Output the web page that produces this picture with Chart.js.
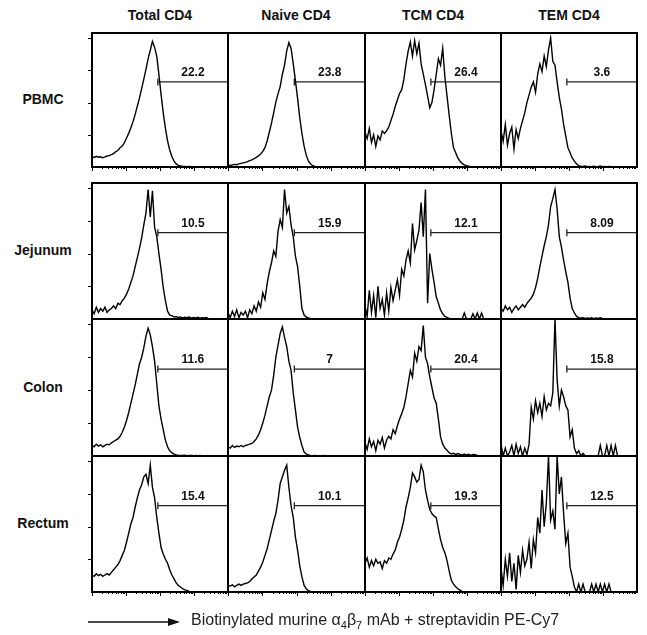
<!DOCTYPE html>
<html>
<head>
<meta charset="utf-8">
<script src="https://cdn.jsdelivr.net/npm/chart.js@4.4.1/dist/chart.umd.min.js"></script>
<style>
    body { margin: 0; width: 647px; height: 635px; position: relative; overflow: hidden; background: #fff;
           font-family: "Liberation Sans", Arial, sans-serif; }
    canvas { position: absolute; }
    .col-title { position: absolute; top: 7px; width: 136px; text-align: center; font-weight: bold; font-size: 14px; color: #111; }
    .row-title { position: absolute; left: 0; width: 86px; text-align: center; font-weight: bold; font-size: 14px; color: #111; }
    #x-title { position: absolute; left: 191px; top: 611px; font-size: 16px; color: #222; white-space: nowrap; }
    #x-title sub { font-size: 11px; }
    #arrow { position: absolute; left: 88px; top: 615px; }
</style>
</head>
<body>
<div id="grid"></div>
<svg id="arrow" width="96" height="14"><line x1="0" y1="7" x2="84" y2="7" stroke="#111" stroke-width="1.3"/><polygon points="80,3 92,7 80,11" fill="#111"/></svg>
<div id="x-title">Biotinylated murine α<sub>4</sub>β<sub>7</sub> mAb + streptavidin PE-Cy7</div>
<script>
// Histogram counts (64 channels per panel, % of mode)
const totalPbmc = [8.0, 7.4, 8.3, 7.6, 7.9, 7.1, 7.8, 8.5, 8.8, 9.6,
    10.4, 11.9, 12.8, 14.9, 16.2, 18.8, 22.5, 26.1, 30.4, 35.2,
    40.8, 47.3, 53.6, 60.9, 68.2, 75.8, 84.1, 90.6, 97.5, 92.8,
    86.0, 71.5, 56.2, 42.0, 30.1, 20.3, 13.2, 8.1, 4.6, 2.4,
    1.3, 0.8, 0.5, 0.4, 0.3, 0.4, 0.2, 0.3, 0.2, 0.1,
    0.2, 0.1, 0.1, 0, 0, 0, 0, 0, 0, 0, 0, 0, 0, 0];
const naivePbmc = [1.5, 1.2, 1.6, 2.0, 1.8, 2.4, 2.8, 3.2, 3.6, 4.1,
    4.9, 5.6, 6.4, 7.5, 8.6, 10.0, 12.1, 15.0, 20.2, 27.0,
    34.1, 42.0, 50.3, 56.8, 62.4, 72.0, 79.1, 90.2, 96.5, 92.0,
    80.3, 67.0, 53.2, 38.1, 26.0, 16.2, 9.0, 4.5, 2.3, 1.0,
    0.5, 0.3, 0.2, 0.1, 0, 0, 0, 0, 0, 0,
    0, 0, 0, 0, 0, 0, 0, 0, 0, 0, 0, 0, 0, 0];
const tcmPbmc = [27, 22, 30, 19, 25, 16, 24, 21, 28, 26,
    28, 31, 36, 41, 47, 52, 57, 60, 68, 80,
    90, 97, 86, 98, 88, 96, 80, 72, 64, 55,
    46, 50, 60, 72, 84, 79, 92, 70, 55, 40,
    26, 15, 11, 7, 4.5, 2.8, 1.6, 1.0, 0.6, 0.3,
    0.2, 0.1, 0, 0, 0, 0, 0, 0, 0, 0, 0, 0, 0, 0];
const temPbmc = [28, 20, 33, 17, 26, 31, 14, 29, 22, 30,
    36, 42, 50, 56, 62, 66, 58, 72, 80, 74,
    86, 78, 91, 100, 82, 79, 66, 54, 45, 33,
    24, 15, 11, 7, 4.5, 2.4, 1.0, 0.6, 0.4, 0.8,
    0.3, 0.5, 0.2, 0.6, 0.3, 0.2, 0.8, 0.3, 0.4, 0.2,
    0.5, 0.2, 0.1, 0.3, 0.1, 0, 0, 0, 0, 0, 0, 0, 0, 0];

const totalJejunum = [7, 4, 9, 5, 8, 6, 9, 5, 7, 8,
    10, 8, 12, 11, 14, 16, 19, 23, 28, 33,
    40, 47, 54, 62, 72, 81, 99, 78, 98, 70,
    63, 50, 38, 24, 14, 6, 3, 2.5, 1.5, 1.8,
    1.2, 1.6, 0.8, 1.4, 1.0, 1.5, 0.7, 1.2, 0.9, 1.3,
    0.6, 1.0, 0.8, 1.1, 0.3, 0, 0, 0, 0, 0, 0, 0, 0, 0];
const naiveJejunum = [5, 1, 6, 2, 7, 1, 5, 3, 6, 1,
    7, 4, 10, 6, 13, 9, 20, 15, 27, 36,
    43, 52, 48, 67, 76, 70, 99, 81, 86, 72,
    63, 48, 40, 25, 8, 3, 1.5, 0.8, 0.3, 0.3,
    0, 0, 0, 0, 0, 0, 0, 0, 0, 0,
    0, 0, 0, 0, 0, 0, 0, 0, 0, 0, 0, 0, 0, 0];
const tcmJejunum = [10, 2, 22, 5, 18, 1, 25, 8, 15, 3,
    20, 6, 24, 14, 22, 30, 18, 38, 33, 45,
    52, 43, 73, 53, 60, 68, 89, 63, 99, 12,
    50, 38, 28, 17, 12, 7, 4, 2, 1.2, 0.5,
    0.3, 0, 0.2, 0, 0.3, 0, 4.6, 0, 0.2, 0,
    4.0, 0, 4.6, 0, 4.5, 0, 0, 0, 0, 0, 0, 0, 0, 0];
const temJejunum = [8, 6, 10, 7, 9, 5, 8, 10, 7, 9,
    11, 9, 12, 14, 16, 19, 24, 31, 40, 48,
    56, 63, 72, 86, 92, 99, 84, 63, 55, 45,
    36, 28, 16, 8, 4.6, 2.0, 1.0, 0.6, 1.0, 0.4,
    0.8, 0.5, 1.0, 0.3, 0.7, 0.4, 0.9, 0.2, 0.1, 0,
    0, 0, 0, 0, 0, 0, 0, 0, 0, 0, 0, 0, 0, 0];

const totalColon = [8, 7, 9, 7.5, 8.5, 7, 8, 9, 8.5, 10,
    11, 12, 13, 15, 18, 22, 27, 33, 40, 47,
    54, 62, 70, 75, 82, 91, 97, 92, 83, 72,
    55, 38, 28, 20, 12, 7, 4, 2.5, 1.5, 0.8,
    0.6, 0.5, 0.4, 0.6, 0.3, 0.5, 0.4, 0.3, 0.5, 0.3,
    0.4, 0.2, 0.3, 0.2, 0, 0, 0, 0, 0, 0, 0, 0, 0, 0];
const naiveColon = [7, 6, 8, 6.5, 7.5, 7, 8, 7, 8, 8.5,
    9, 9.5, 11, 13, 16, 20, 25, 31, 38, 45,
    50, 61, 75, 84, 93, 98, 90, 83, 72, 65,
    48, 35, 22, 14, 8, 3, 1.5, 0.8, 0.5, 0.3,
    0.4, 0.2, 0.3, 0.2, 0.4, 0.2, 0.3, 0.1, 0, 0,
    0, 0, 0, 0, 0, 0, 0, 0, 0, 0, 0, 0, 0, 0];
const tcmColon = [10, 5, 13, 7, 11, 4, 12, 9, 14, 6,
    12, 15, 13, 20, 17, 23, 28, 32, 37, 45,
    55, 65, 60, 78, 72, 83, 80, 99, 75, 70,
    60, 52, 44, 40, 28, 14.5, 9, 6, 4.3, 2.5,
    1.5, 2.0, 1.0, 1.8, 1.2, 0.6, 1.5, 0.8, 1.4, 0.5,
    1.2, 1.0, 0.4, 0.2, 0, 0, 0, 0, 0, 0, 0, 0, 0, 0];
const temColon = [9, 0, 6, 0, 3, 8, 0, 9, 2, 7,
    0, 6, 1, 9, 37, 28, 42, 33, 40, 30,
    45, 35, 40, 38, 48, 104, 58, 38, 50, 45,
    38, 35, 14.5, 20, 6, 1.8, 4, 0, 2, 0,
    0, 0, 0, 0, 0, 0, 8, 0, 0, 8,
    0, 8, 0, 8, 0, 0, 0, 0, 0, 0, 0, 0, 0, 0];

const totalRectum = [13, 12, 14, 12.5, 13.5, 12, 13, 14, 13, 15,
    17, 19, 21, 24, 28, 32, 38, 45, 52, 57,
    65, 72, 78, 82, 88, 90, 83, 97, 80, 72,
    57, 45, 34, 29, 25, 22, 17, 13, 10, 7,
    5, 3.8, 2.5, 1.6, 1.3, 0.5, 0.3, 0.2, 0, 0,
    0, 0, 0, 0, 0, 0, 0, 0, 0, 0, 0, 0, 0, 0];
const naiveRectum = [5, 4.5, 5.5, 4, 5, 6, 5, 6, 6.5, 7,
    8, 10, 11.5, 13, 16, 19, 23, 28, 33, 40,
    47, 54, 60, 70, 83, 88, 93, 97, 80, 66,
    57, 42, 32, 20, 11.5, 5, 2.5, 1.0, 0.5, 0.3,
    0.2, 0.1, 0, 0, 0, 0, 0, 0, 0, 0,
    0, 0, 0, 0, 0, 0, 0, 0, 0, 0, 0, 0, 0, 0];
const tcmRectum = [22, 26, 19, 24, 20, 25, 22, 23, 18, 24,
    22, 26, 25, 29, 32, 38, 42, 48, 55, 65,
    72, 80, 91, 88, 84, 86, 97, 92, 78, 70,
    63, 60, 58, 57, 48, 40, 34, 30, 24, 16,
    9, 6, 4, 2.5, 1.5, 0.5, 0.3, 0.2, 0, 0,
    0, 0, 0, 0, 0, 0, 0, 0, 0, 0, 0, 0, 0, 0];
const temRectum = [18, 5, 25, 12, 30, 8, 22, 2, 28, 15,
    32, 20, 25, 38, 18, 40, 30, 57, 45, 78,
    50, 68, 104, 55, 62, 48, 104, 75, 88, 60,
    37, 45, 19, 12, 3.8, 0, 6, 0, 6, 0,
    0, 0, 6, 0, 6, 0, 6, 0, 6, 0,
    6, 0, 0, 0, 0, 0, 0, 0, 0, 0, 0, 0, 0, 0];

const columnTitles = ['Total CD4', 'Naive CD4', 'TCM CD4', 'TEM CD4'];
const rowTitles = ['PBMC', 'Jejunum', 'Colon', 'Rectum'];
const gatePercents = [
    ['22.2', '23.8', '26.4', '3.6'],
    ['10.5', '15.9', '12.1', '8.09'],
    ['11.6', '7', '20.4', '15.8'],
    ['15.4', '10.1', '19.3', '12.5']
];
const histograms = [
    [totalPbmc, naivePbmc, tcmPbmc, temPbmc],
    [totalJejunum, naiveJejunum, tcmJejunum, temJejunum],
    [totalColon, naiveColon, tcmColon, temColon],
    [totalRectum, naiveRectum, tcmRectum, temRectum]
];
const GATE_START = 30.5;   // channel where the positive gate begins
const GATE_LEVEL = 66;
const LAST_CHANNEL = 63;
const Y_MAX = 104;

// layout of the panel grid (pixels)
const colEdges = [92, 228, 365, 501, 637];
const rowTops = [33, 183, 319, 456];
const rowBottoms = [167, 319, 456, 592];
const PAD = 8;

// log-decade tick marks along the bottom, short ticks on the left
const xTicks = [];
for (let d = 0; d < 4; d++) {
    for (let k = 1; k <= 9; k++) {
        xTicks.push({ v: (d + Math.log10(k)) * LAST_CHANNEL / 4, len: k === 1 ? 4 : 2 });
    }
}
const yTicks = [25, 50, 75, 100];

const panelFrame = {
    id: 'panelFrame',
    afterDraw(chart, args, opts) {
        const { ctx, chartArea: a, scales } = chart;
        ctx.save();
        ctx.strokeStyle = '#000';
        ctx.lineWidth = 1;
        if (opts.showX) {
            xTicks.forEach(t => {
                const px = Math.round(scales.x.getPixelForValue(t.v)) + 0.5;
                ctx.beginPath();
                ctx.moveTo(px, a.bottom);
                ctx.lineTo(px, a.bottom + t.len);
                ctx.stroke();
            });
        }
        if (opts.showY) {
            yTicks.forEach(v => {
                const py = Math.round(scales.y.getPixelForValue(v)) + 0.5;
                ctx.beginPath();
                ctx.moveTo(a.left - 4, py);
                ctx.lineTo(a.left, py);
                ctx.stroke();
            });
        }
        ctx.lineWidth = 2;
        ctx.strokeRect(a.left, a.top, a.right - a.left, a.bottom - a.top);

        // percentage above the gate bar
        const gx = (scales.x.getPixelForValue(GATE_START) + scales.x.getPixelForValue(LAST_CHANNEL)) / 2;
        const gy = scales.y.getPixelForValue(GATE_LEVEL) - 3;
        ctx.font = 'bold 12px "Liberation Sans", Arial, sans-serif';
        ctx.textAlign = 'center';
        ctx.textBaseline = 'bottom';
        ctx.fillStyle = '#111';
        ctx.fillText(opts.label, gx, gy);
        ctx.restore();
    }
};

function buildPanel(row, col) {
    const left = colEdges[col], right = colEdges[col + 1];
    const top = rowTops[row], bottom = rowBottoms[row];
    const canvas = document.createElement('canvas');
    canvas.width = right - left + 2 * PAD;
    canvas.height = bottom - top + 2 * PAD;
    canvas.style.left = (left - PAD) + 'px';
    canvas.style.top = (top - PAD) + 'px';
    document.getElementById('grid').appendChild(canvas);

    const counts = histograms[row][col];
    new Chart(canvas.getContext('2d'), {
        type: 'line',
        data: {
            datasets: [{
                data: counts.map((v, i) => ({ x: i, y: v })),
                borderColor: '#000',
                borderWidth: 1.4,
                pointRadius: 0,
                tension: 0
            }, {
                data: [{ x: GATE_START, y: GATE_LEVEL }, { x: LAST_CHANNEL, y: GATE_LEVEL }],
                borderColor: '#222',
                borderWidth: 1.3,
                pointStyle: 'line',
                pointRotation: 90,
                pointRadius: 3.5,
                pointBorderWidth: 1.3,
                clip: false
            }]
        },
        options: {
            responsive: false,
            animation: false,
            events: [],
            layout: { padding: PAD },
            scales: {
                x: { type: 'linear', min: 0, max: LAST_CHANNEL, display: false },
                y: { type: 'linear', min: 0, max: Y_MAX, display: false }
            },
            plugins: {
                legend: { display: false },
                tooltip: { enabled: false },
                panelFrame: { label: gatePercents[row][col], showX: row === 0 || row === 3, showY: col === 0 }
            }
        },
        plugins: [panelFrame]
    });
}

const grid = document.getElementById('grid');
columnTitles.forEach((t, c) => {
    grid.insertAdjacentHTML('beforeend', `<div class="col-title" style="left:${colEdges[c]}px">${t}</div>`);
});
rowTitles.forEach((t, r) => {
    const mid = (rowTops[r] + rowBottoms[r]) / 2;
    grid.insertAdjacentHTML('beforeend', `<div class="row-title" style="top:${mid - 9}px">${t}</div>`);
});
for (let r = 0; r < 4; r++) {
    for (let c = 0; c < 4; c++) buildPanel(r, c);
}
</script>
</body>
</html>
